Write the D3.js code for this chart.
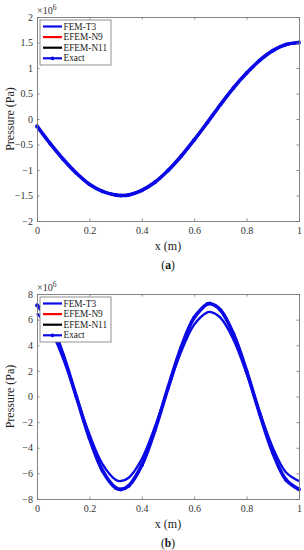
<!DOCTYPE html>
<html lang="en">
<head>
    <meta charset="UTF-8">
    <title>Pressure distribution (a) and (b)</title>
    <script src="https://d3js.org/d3.v7.min.js"></script>
    <style>
        body { margin: 0; background: #fff; font-family: "Liberation Serif", "Times New Roman", serif; }
        .tick text { font-family: "Liberation Serif", serif; font-size: 10px; fill: #333; }
        .axis-label { font-size: 12px; fill: #222; }
        .legend-text { font-size: 9.3px; fill: #222; }
        .caption { font-size: 11.5px; fill: #111; }
    </style>
</head>
<body>
    <svg width="304" height="550"></svg>
    <script>
        const legendNames = ["FEM-T3", "EFEM-N9", "EFEM-N11", "Exact"];
        const seriesColors = ["#0a0ae6", "#ff0000", "#000000", "#0a0ae6"];
        const xTicks = [0, 0.2, 0.4, 0.6, 0.8, 1];

        // panel (a): pressure in 1e6 Pa
        const xA = [0, 0.05, 0.1, 0.15, 0.2, 0.25, 0.3, 0.32, 0.35, 0.4, 0.45, 0.5,
                    0.55, 0.6, 0.65, 0.7, 0.75, 0.8, 0.85, 0.9, 0.95, 1];
        const femA = [-0.14, -0.48, -0.79, -1.06, -1.28, -1.42, -1.49, -1.50, -1.49, -1.40, -1.24, -1.01,
                      -0.73, -0.41, -0.07, 0.28, 0.61, 0.90, 1.15, 1.34, 1.46, 1.50];
        const n9A = femA.slice();
        const n11A = femA.slice();
        const exactA = femA.slice();
        const yTicksA = [-2, -1.5, -1, -0.5, 0, 0.5, 1, 1.5, 2];

        // panel (b): pressure in 1e6 Pa
        const xB = [0, 0.05, 0.1, 0.15, 0.2, 0.25, 0.3, 0.32, 0.35, 0.4, 0.45, 0.5,
                    0.55, 0.6, 0.65, 0.66, 0.7, 0.75, 0.8, 0.85, 0.9, 0.95, 1];
        const femB = [6.49, 5.26, 2.94, 0.0, -2.95, -5.27, -6.49, -6.60, -6.34, -4.88, -2.38, 0.61,
                      3.48, 5.61, 6.57, 6.60, 6.15, 4.44, 1.80, -1.22, -3.99, -5.91, -6.60];
        const exactB = [7.13, 5.78, 3.23, 0.0, -3.24, -5.79, -7.13, -7.25, -6.97, -5.36, -2.62, 0.67,
                        3.82, 6.16, 7.22, 7.25, 6.76, 4.88, 1.98, -1.34, -4.38, -6.49, -7.25];
        const n9B = exactB.slice();
        const n11B = exactB.slice();
        const yTicksB = [-8, -6, -4, -2, 0, 2, 4, 6, 8];

        const svg = d3.select("svg");

        function drawPanel(opt) {
            const left = 37, right = 299;
            const x = d3.scaleLinear().domain([0, 1]).range([left, right]);
            const y = d3.scaleLinear().domain(opt.yDomain).range([opt.bottom, opt.top]);
            const g = svg.append("g");

            // lines
            const line = d3.line()
                .x(d => x(d[0]))
                .y(d => y(d[1]))
                .curve(d3.curveCatmullRom.alpha(0.5));

            const widths = [2.4, 2.4, 2.4, 3.6];
            opt.series.forEach((vals, i) => {
                const pts = opt.xs.map((xv, j) => [xv, vals[j]]);
                g.append("path")
                    .datum(pts)
                    .attr("fill", "none")
                    .attr("stroke", seriesColors[i])
                    .attr("stroke-width", widths[i])
                    .attr("d", line);
            });

            // exact markers
            const exactPts = opt.xs.map((xv, j) => [xv, opt.series[3][j]]);
            g.selectAll(".marker")
                .data(exactPts)
                .join("circle")
                .attr("cx", d => x(d[0]))
                .attr("cy", d => y(d[1]))
                .attr("r", 1.9)
                .attr("fill", seriesColors[3]);

            // axes, ticks inward on all sides
            const tk = 2.6;
            g.append("g")
                .attr("transform", `translate(0,${opt.bottom})`)
                .call(d3.axisBottom(x).tickValues(xTicks).tickSize(-tk).tickPadding(6)
                    .tickFormat(d3.format("~g")));
            g.append("g")
                .attr("transform", `translate(${left},0)`)
                .call(d3.axisLeft(y).tickValues(opt.yTicks).tickSize(-tk).tickPadding(4)
                    .tickFormat(d3.format("~g")));
            g.append("g")
                .attr("transform", `translate(0,${opt.top})`)
                .call(d3.axisTop(x).tickValues(xTicks).tickSize(-tk).tickFormat(""));
            g.append("g")
                .attr("transform", `translate(${right},0)`)
                .call(d3.axisRight(y).tickValues(opt.yTicks).tickSize(-tk).tickFormat(""));

            g.selectAll(".domain").attr("stroke", "#777").attr("stroke-width", 0.9);
            g.selectAll(".tick line").attr("stroke", "#777").attr("stroke-width", 0.8);

            // exponent label
            const ex = g.append("text")
                .attr("x", left)
                .attr("y", opt.top - 3)
                .attr("font-size", 10)
                .attr("fill", "#333");
            ex.append("tspan").text("\u00d710");
            ex.append("tspan").attr("dy", -4).attr("font-size", 7.5).text("6");

            // legend
            const lx = 40, ly = opt.top + 3, lw = 71, lh = 45, step = 10.6;
            const leg = g.append("g");
            leg.append("rect")
                .attr("x", lx).attr("y", ly).attr("width", lw).attr("height", lh)
                .attr("fill", "#fff").attr("stroke", "#777").attr("stroke-width", 0.8);
            legendNames.forEach((name, i) => {
                const yy = ly + 6.5 + i * step;
                leg.append("line")
                    .attr("x1", lx + 3).attr("x2", lx + 22)
                    .attr("y1", yy).attr("y2", yy)
                    .attr("stroke", seriesColors[i]).attr("stroke-width", 2.2);
                if (i === 3) {
                    leg.append("circle")
                        .attr("cx", lx + 12.5).attr("cy", yy).attr("r", 1.9)
                        .attr("fill", seriesColors[i]);
                }
                leg.append("text")
                    .attr("class", "legend-text")
                    .attr("x", lx + 23.5)
                    .attr("y", yy + 3)
                    .text(name);
            });

            // axis labels
            g.append("text")
                .attr("class", "axis-label")
                .attr("x", (left + right) / 2)
                .attr("y", opt.bottom + 29)
                .attr("text-anchor", "middle")
                .text("x (m)");
            g.append("text")
                .attr("class", "axis-label")
                .attr("transform", `translate(14,${(opt.top + opt.bottom) / 2}) rotate(-90)`)
                .attr("text-anchor", "middle")
                .text("Pressure (Pa)");

            // caption
            const cap = g.append("text")
                .attr("class", "caption")
                .attr("x", (left + right) / 2)
                .attr("y", opt.bottom + 48)
                .attr("text-anchor", "middle");
            cap.append("tspan").text("(");
            cap.append("tspan").attr("font-weight", "bold").text(opt.caption);
            cap.append("tspan").text(")");
        }

        drawPanel({
            top: 17, bottom: 221, yDomain: [-2, 2], yTicks: yTicksA,
            xs: xA, series: [femA, n9A, n11A, exactA], caption: "a"
        });
        drawPanel({
            top: 294, bottom: 499, yDomain: [-8, 8], yTicks: yTicksB,
            xs: xB, series: [femB, n9B, n11B, exactB], caption: "b"
        });
    </script>
</body>
</html>
